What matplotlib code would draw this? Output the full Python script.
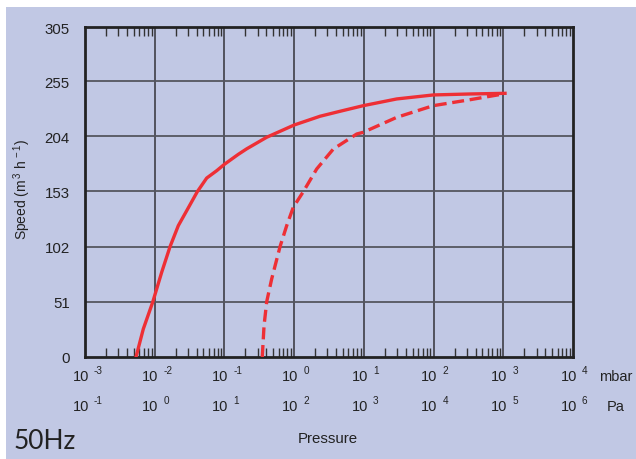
import matplotlib
matplotlib.use('Agg')
import matplotlib.pyplot as plt
from matplotlib.patches import Rectangle
from matplotlib.ticker import LogLocator, NullFormatter, FixedLocator
import numpy as np

# pressure readings (mbar) and pumping speed (m3/h)
solid_p = [0.00539, 0.00686, 0.00935, 0.01259, 0.01657, 0.0218, 0.02875, 0.04083, 0.0557,
           0.0775, 0.0995, 0.158, 0.2087, 0.404, 1.0, 2.35, 4.55, 9.82, 29.6, 99.1, 333.0, 1059.0]
solid_speed = [0, 25.9, 50.6, 78.3, 101.9, 121.4, 135.2, 152.8, 165.4,
               172.2, 178.0, 187.3, 192.4, 203.1, 214.4, 222.5, 227.1, 232.3, 238.5, 242.2, 243.1, 243.7]

dash_p = [0.349, 0.370, 0.404, 0.476, 0.627, 0.782, 0.972, 1.353, 2.107, 3.645, 7.9,
          9.82, 29.6, 99.1, 333.0, 1000.0]
dash_speed = [0, 28.9, 51.1, 72.1, 101.9, 121.4, 138.4, 152.8, 173.8, 192.2, 206.1,
              207.7, 221.5, 232.3, 237.8, 243.1]

yticks = [0, 51, 102, 153, 204, 255, 305]
mbar_exp = [-3, -2, -1, 0, 1, 2, 3, 4]
pa_exp = [-1, 0, 1, 2, 3, 4, 5, 6]

font = 'Liberation Sans'
plt.rcParams['mathtext.fontset'] = 'custom'
plt.rcParams['mathtext.rm'] = font
plt.rcParams['mathtext.it'] = font

W, H = 636, 460
fig = plt.figure(figsize=(W / 100, H / 100), dpi=100)
fig.patch.set_facecolor('white')
fig.patches.append(Rectangle((6 / W, 0), 1, (H - 8) / H, transform=fig.transFigure,
                             facecolor='#c1c8e4', edgecolor='none', zorder=-10))

ax = fig.add_axes([85 / W, (H - 358) / H, 488 / W, 330 / H])
ax.set_facecolor('#c1c8e4')
ax.set_xscale('log')
ax.set_xlim(1e-3, 1e4)
ax.set_ylim(0, 305)

ax.plot(solid_p, solid_speed, color='#ee2f35', lw=2.4, solid_joinstyle='round', zorder=3)
ax.plot(dash_p, dash_speed, color='#ee2f35', lw=2.4, dashes=(3.6, 1.7), zorder=3)

# grid
for e in mbar_exp[1:-1]:
    ax.axvline(10.0 ** e, color='#333338', lw=1.1, zorder=1)
for v in yticks[1:-1]:
    ax.axhline(v, color='#55565f', lw=1.3, zorder=1)

ax.xaxis.set_major_locator(FixedLocator([10.0 ** e for e in mbar_exp]))
ax.xaxis.set_minor_locator(LogLocator(base=10, subs=np.arange(2, 10), numticks=20))
ax.xaxis.set_minor_formatter(NullFormatter())
ax.set_xticklabels([])
ax.tick_params(axis='x', which='major', length=0)
ax.tick_params(axis='x', which='minor', direction='in', top=True, bottom=True,
               length=6.5, width=1.0, color='#333333')
ax.set_yticks(yticks)
ax.tick_params(axis='y', which='major', length=0, pad=11, labelsize=10.8)
for lab in ax.get_yticklabels():
    lab.set_fontfamily(font)
    lab.set_color('#222222')

for s in ax.spines.values():
    s.set_linewidth(2.0)
    s.set_color('#222222')

# two rows of tick labels: mbar and Pa
for exps, dy in [(mbar_exp, -19), (pa_exp, -49)]:
    for e_m, e in zip(mbar_exp, exps):
        x = 10.0 ** e_m
        ax.annotate('10', xy=(x, 0), xycoords=('data', 'axes fraction'),
                    xytext=(4, dy), textcoords='offset pixels',
                    ha='right', va='center', fontsize=10.5, family=font, color='#222222')
        ax.annotate(str(e), xy=(x, 0), xycoords=('data', 'axes fraction'),
                    xytext=(9, dy + 6), textcoords='offset pixels',
                    ha='left', va='center', fontsize=7.2, family=font, color='#222222')

fig.text(599 / W, 1 - 377 / H, 'mbar', ha='left', va='center', fontsize=10.5, family=font, color='#222222')
fig.text(607 / W, 1 - 407 / H, 'Pa', ha='left', va='center', fontsize=10.5, family=font, color='#222222')
fig.text(328 / W, 1 - 439 / H, 'Pressure', ha='center', va='center', fontsize=10.8, family=font, color='#222222')
fig.text(22 / W, 1 - 190 / H, 'Speed (m$^{\\,3}$ h$^{\\,-1}$)', ha='center', va='center', rotation=90,
         fontsize=10, family=font, color='#222222')
fig.text(14 / W, 1 - 442 / H, '50Hz', ha='left', va='center', fontsize=19, family='Lato', color='#222222')

fig.savefig('out.png', dpi=100, facecolor=fig.get_facecolor())
